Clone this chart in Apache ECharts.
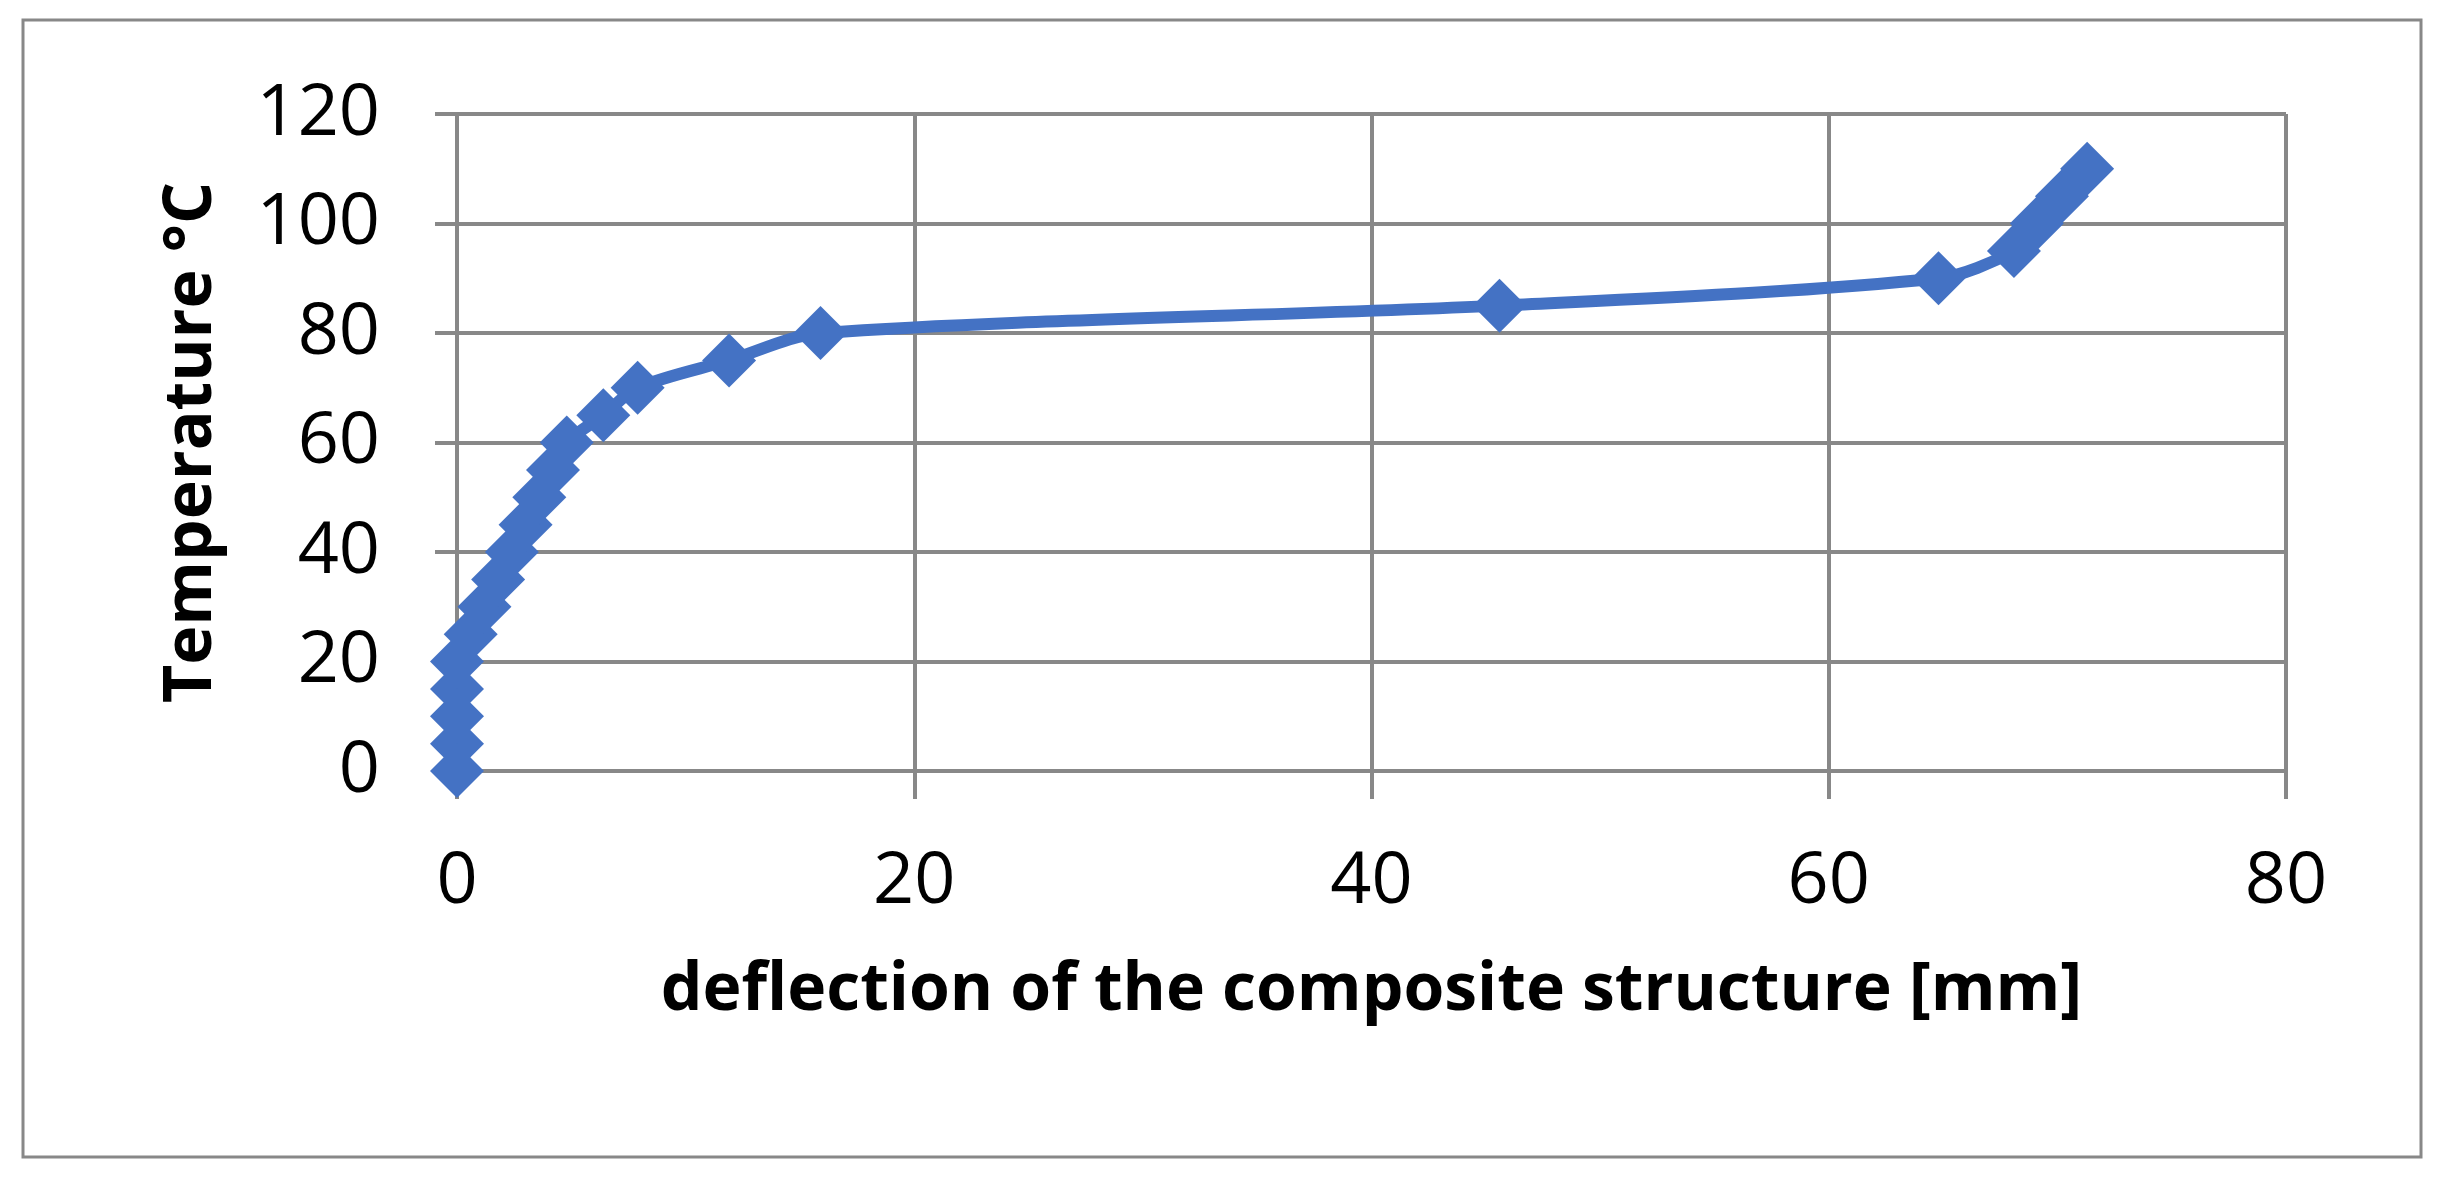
<!DOCTYPE html>
<html>
<head>
<meta charset="utf-8">
<script src="https://cdn.jsdelivr.net/npm/echarts@6/dist/echarts.min.js"></script>
<style>
html, body { margin: 0; padding: 0; background: #fff; }
#chart { width: 2448px; height: 1182px; }
</style>
</head>
<body>
<div id="chart"></div>
<script>
// deflection [mm] vs temperature [°C]
var deflection = [0, 0, 0, 0, 0, 0.6, 1.2, 1.8, 2.4, 3.0, 3.6, 4.2, 4.8, 6.4, 7.9, 11.9, 15.9, 45.6, 64.8, 68.1, 69.1, 70.2, 71.3];
var temperature = [0, 5, 10, 15, 20, 25, 30, 35, 40, 45, 50, 55, 60, 65, 70, 75, 80, 85, 90, 95, 100, 105, 110];

var points = [];
for (var i = 0; i < deflection.length; i++) {
    points.push([deflection[i], temperature[i]]);
}

var font = "'Open Sans', 'Liberation Sans', sans-serif";
var myChart = echarts.init(document.getElementById("chart"));
myChart.setOption({
    backgroundColor: "#fff",
    animation: false,
    graphic: [{
        type: "rect",
        shape: { x: 23, y: 20, width: 2398, height: 1137 },
        style: { fill: "none", stroke: "#888", lineWidth: 3 }
    }],
    grid: { left: 457, right: 162, top: 114, bottom: 411 },
    xAxis: {
        type: "value",
        min: 0, max: 80, interval: 20,
        name: "deflection of the composite structure [mm]",
        nameLocation: "middle",
        nameGap: 187,
        nameTextStyle: { fontFamily: font, fontSize: 66, fontWeight: "bold", color: "#000" },
        axisLine: { show: false },
        axisTick: { show: true, length: 28, lineStyle: { color: "#888", width: 4 } },
        axisLabel: { fontFamily: font, fontSize: 72, color: "#000", margin: 75 },
        splitLine: { show: true, lineStyle: { color: "#888", width: 4 } }
    },
    yAxis: {
        type: "value",
        min: 0, max: 120, interval: 20,
        name: "Temperature °C",
        nameLocation: "middle",
        nameGap: 232,
        nameTextStyle: { fontFamily: font, fontSize: 66, fontWeight: "bold", color: "#000" },
        axisLine: { show: false },
        axisTick: { show: true, length: 22, lineStyle: { color: "#888", width: 4 } },
        axisLabel: { fontFamily: font, fontSize: 72, color: "#000", margin: 77 },
        splitLine: { show: true, lineStyle: { color: "#888", width: 4 } }
    },
    series: [{
        type: "line",
        data: points,
        smooth: 0.3,
        symbol: "diamond",
        symbolSize: 54,
        itemStyle: { color: "#4472C4" },
        lineStyle: { color: "#4472C4", width: 12 }
    }]
});
</script>
</body>
</html>
